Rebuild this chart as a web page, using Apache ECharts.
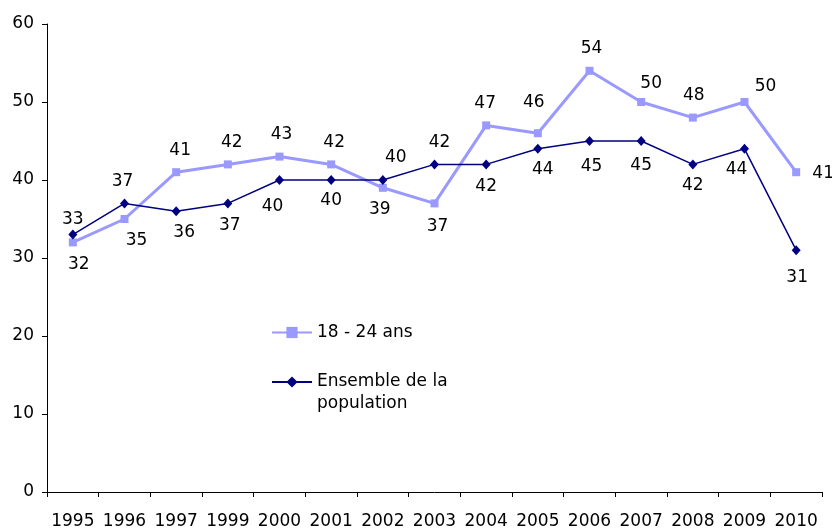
<!DOCTYPE html>
<html>
<head>
<meta charset="utf-8">
<script src="https://cdn.jsdelivr.net/npm/echarts@6/dist/echarts.min.js"></script>
<style>html,body{margin:0;padding:0;background:#fff}#c{width:832px;height:530px}</style>
</head>
<body>
<div id="c"></div>
<script>
var years = ['1995','1996','1997','1999','2000','2001','2002','2003','2004','2005','2006','2007','2008','2009','2010'];
var jeunes = [32,35,41,42,43,42,39,37,47,46,54,50,48,50,41];
var ensemble = [33,37,36,37,40,40,40,42,42,44,45,45,42,44,31];
var nameJeunes = '18 - 24 ans';
var nameEnsemble = 'Ensemble de la population';

// label placement (layout only)
var offJeunes = [[6,22],[12,22],[4,-22],[4,-22],[2,-22],[3,-22],[-3,22],[3,23],[-1,-22],[-4,-31],[2,-22],[10,-18],[1,-22],[21,-15],[27,1]];
var offEns = [[0,-15],[-2,-22],[8,21],[2,22],[-7,27],[0,21],[13,-22],[5,-22],[0,22],[5,21],[2,26],[0,25],[0,21],[-8,21],[1,27]];

var FONT = 'DejaVu Sans';
var FS = 17;
function withLabels(vals, offs) {
  return vals.map(function (v, i) {
    return { value: v, label: { offset: offs[i] } };
  });
}
var chart = echarts.init(document.getElementById('c'));
chart.setOption({
  animation: false,
  textStyle: { fontFamily: FONT },
  grid: { left: 47, right: 10, top: 24, bottom: 38 },
  xAxis: {
    type: 'category',
    data: years,
    boundaryGap: true,
    axisLine: { lineStyle: { color: '#000', width: 1 } },
    axisTick: { show: true, alignWithLabel: false, length: 5, lineStyle: { color: '#000' } },
    axisLabel: { color: '#000', fontSize: FS, fontFamily: FONT, margin: 21, interval: 0 }
  },
  yAxis: {
    type: 'value',
    min: 0, max: 60, interval: 10,
    splitLine: { show: false },
    axisLine: { show: true, lineStyle: { color: '#000', width: 1 } },
    axisTick: { show: true, length: 5, lineStyle: { color: '#000' } },
    axisLabel: { color: '#000', fontSize: FS, fontFamily: FONT, margin: 13 }
  },
  legend: [
    {
      data: [nameJeunes],
      orient: 'vertical', left: 271, top: 324, padding: 0,
      itemWidth: 40, itemHeight: 14,
      textStyle: { color: '#000', fontSize: FS, fontFamily: FONT }
    },
    {
      data: [nameEnsemble],
      orient: 'vertical', left: 271, top: 349, padding: 0,
      itemWidth: 40, itemHeight: 14,
      formatter: function () { return '\nEnsemble de la\npopulation'; },
      textStyle: { color: '#000', fontSize: FS, fontFamily: FONT, lineHeight: 22 }
    }
  ],
  series: [
    {
      name: nameJeunes,
      type: 'line',
      data: withLabels(jeunes, offJeunes),
      symbol: 'rect', symbolSize: 8,
      itemStyle: { color: '#9999FF' },
      lineStyle: { color: '#9999FF', width: 3 },
      label: { show: true, position: 'inside', color: '#000', fontSize: FS, fontFamily: FONT },
      z: 2
    },
    {
      name: nameEnsemble,
      type: 'line',
      data: withLabels(ensemble, offEns),
      symbol: 'diamond', symbolSize: [9, 10],
      itemStyle: { color: '#000080' },
      lineStyle: { color: '#000080', width: 1.5 },
      label: { show: true, position: 'inside', color: '#000', fontSize: FS, fontFamily: FONT },
      z: 3
    }
  ]
});
</script>
</body>
</html>
